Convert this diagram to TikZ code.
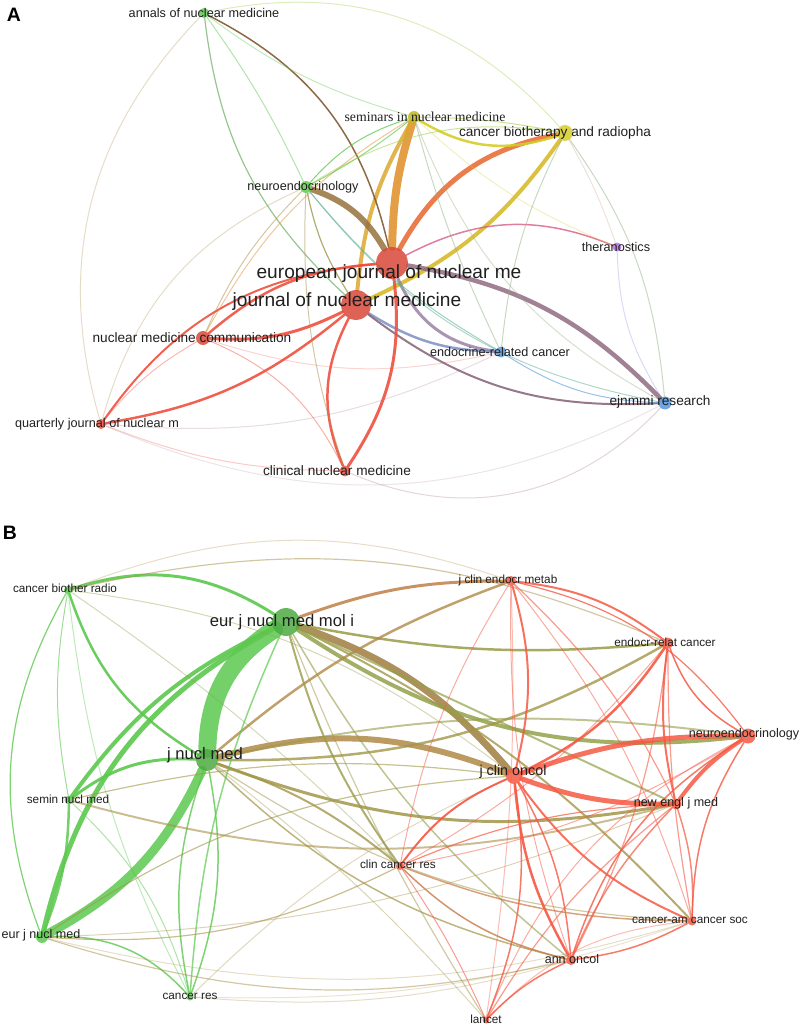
\documentclass[tikz,border=0pt]{standalone}
\usepackage{fontspec}
\setmainfont{Liberation Sans}
\newfontfamily\serifA{Liberation Serif}
\usetikzlibrary{backgrounds}

% cluster colours
\definecolor{redA}{RGB}{240,80,62}
\definecolor{grnA}{RGB}{100,200,85}
\definecolor{ylwA}{RGB}{212,205,40}
\definecolor{bluA}{RGB}{85,150,222}
\definecolor{prpA}{RGB}{178,112,235}
\definecolor{redB}{RGB}{245,88,66}
\definecolor{grnB}{RGB}{92,200,78}

\tikzset{
  jrnl/.style={circle, inner sep=0pt, minimum size=#1, fill opacity=0.85},
  lnk/.style={line cap=round},
  lblA/.style={font=\fontsize{12.7}{14}\selectfont, text=black!88, inner sep=0pt},
  lblAm/.style={font=\fontsize{13.7}{15}\selectfont, text=black!88, inner sep=0pt},
  lblAL/.style={font=\fontsize{19.2}{21}\selectfont, text=black!88, inner sep=0pt},
  lblBs/.style={font=\fontsize{11.8}{13}\selectfont, text=black!88, inner sep=0pt},
  lblB/.style={font=\fontsize{12.6}{14}\selectfont, text=black!88, inner sep=0pt},
  lblBm/.style={font=\fontsize{14.4}{16}\selectfont, text=black!88, inner sep=0pt},
  lblBL/.style={font=\fontsize{16.7}{18}\selectfont, text=black!88, inner sep=0pt},
  panel/.style={font=\bfseries\fontsize{19.5}{20}\selectfont, inner sep=0pt}
}

\begin{document}
\begin{tikzpicture}[x=1bp,y=1bp]
\useasboundingbox (0,-1027) rectangle (803,0);

% ---------- panel A: journals ----------
\node[panel] (panelA) at (14,-15) {A};

\node[jrnl=10, fill=grnA] (annals) at (204,-13) {};
\node[jrnl=12, fill=ylwA!90!black] (semA) at (414,-117) {};
\node[jrnl=16, fill=ylwA] (cbr) at (565,-133) {};
\node[jrnl=12, fill=grnA] (neuroA) at (306,-187) {};
\node[jrnl=9, fill=prpA] (thera) at (617,-247) {};
\node[jrnl=32, fill=redA!90!black] (ejnm) at (392,-263) {};
\node[jrnl=30, fill=redA!90!black] (jnm) at (356,-305) {};
\node[jrnl=14, fill=redA!90!black] (nmc) at (203,-338) {};
\node[jrnl=11, fill=bluA] (erc) at (501,-352) {};
\node[jrnl=10, fill=redA] (qj) at (101,-424) {};
\node[jrnl=13, fill=bluA] (ejr) at (665,-403) {};
\node[jrnl=11, fill=redA] (cnm) at (345,-471) {};

% links of panel A (source/target/colour/width/opacity/bend)
\begin{scope}[on background layer]
\foreach \s/\t/\c/\w/\o/\b in {
  ejnm/semA/redA!45!ylwA/8/.9/8,
  jnm/semA/redA!30!ylwA/4/.85/12,
  ejnm/cbr/redA!75!ylwA/5/.9/25,
  cbr/jnm/ylwA!85!redA/4/.9/15,
  semA/cbr/ylwA/2.5/.9/-25,
  semA/cbr/ylwA!60!grnA/1/.6/5,
  neuroA/ejnm/grnA!45!redA!85!black/6/.85/20,
  annals/ejnm/grnA!40!redA!70!black/1.5/.9/25,
  annals/jnm/grnA!80!black/1.2/.6/-20,
  ejnm/ejr/redA!50!bluA!85!black/4.5/.8/18,
  ejnm/erc/redA!40!bluA/3/.8/-30,
  jnm/erc/bluA!80!redA/2.5/.8/-15,
  jnm/ejr/redA!50!bluA!75!black/2/.8/-20,
  ejnm/thera/redA!60!prpA/1.5/.8/25,
  jnm/nmc/redA/3/.9/15,
  ejnm/nmc/redA/2.5/.9/-18,
  jnm/qj/redA/2.5/.9/15,
  ejnm/qj/redA/2/.9/-25,
  jnm/cnm/redA/2.5/.9/-25,
  ejnm/cnm/redA/3/.9/20,
  nmc/qj/redA/1/.4/-10,
  nmc/cnm/redA/1/.45/20,
  nmc/semA/redA!50!ylwA/1/.5/15,
  nmc/erc/redA/1/.25/-15,
  neuroA/semA/grnA/1/.8/15,
  neuroA/semA/grnA/1/.7/-5,
  neuroA/cbr/grnA!50!ylwA/1/.5/20,
  neuroA/jnm/grnA!60!redA/1.2/.8/-10,
  neuroA/erc/grnA!60!bluA/1/.6/-10,
  neuroA/ejr/grnA!50!bluA/1/.5/-20,
  neuroA/cnm/grnA!50!redA/1/.5/-10,
  neuroA/nmc/grnA!50!redA/1/.5/-10,
  annals/semA/grnA/1/.4/-10,
  annals/neuroA/grnA/1/.5/5,
  annals/cbr/grnA!50!ylwA/1/.35/30,
  annals/qj/grnA!50!redA/1/.3/-30,
  semA/erc/ylwA!50!bluA/1/.5/-5,
  semA/ejr/ylwA!50!bluA/1/.4/-20,
  semA/thera/ylwA/1/.3/-10,
  cbr/erc/ylwA!50!bluA/1/.5/-10,
  cbr/ejr/ylwA!50!bluA/1/.5/15,
  cbr/thera/ylwA!50!prpA/1/.3/5,
  thera/ejr/prpA!50!bluA/1/.3/-15,
  erc/ejr/bluA/1/.6/-15,
  cnm/ejr/redA!50!bluA/1/.3/-35,
  qj/ejr/redA!50!bluA/1/.2/-25,
  qj/cnm/redA/1/.3/-10,
  qj/erc/redA!50!bluA/1/.25/-15,
  qj/neuroA/redA!50!grnA/1/.3/25%
}{
  \draw[lnk, draw=\c, line width=\w pt, draw opacity=\o] (\s) to[bend left=\b] (\t);
}
\end{scope}

\node[lblA] (annals-t) at (204,-13) {annals of nuclear medicine};
\node[lblA, font=\serifA\fontsize{13.8}{15}\selectfont] (semA-t) at (425,-117) {seminars in nuclear medicine};
\node[lblAm] (cbr-t) at (555,-133) {cancer biotherapy and radiopha};
\node[lblA] (neuroA-t) at (303,-187) {neuroendocrinology};
\node[lblA] (thera-t) at (616,-247) {theranostics};
\node[lblAL] (ejnm-t) at (389,-274) {european journal of nuclear me};
\node[lblAL] (jnm-t) at (347,-302) {journal of nuclear medicine};
\node[lblAm] (nmc-t) at (192,-338) {nuclear medicine communication};
\node[lblA] (erc-t) at (500,-352) {endocrine-related cancer};
\node[lblA] (qj-t) at (97,-424) {quarterly journal of nuclear m};
\node[lblAm] (ejr-t) at (660,-402) {ejnmmi research};
\node[lblAm] (cnm-t) at (337,-471) {clinical nuclear medicine};

% ---------- panel B: cited sources ----------
\node[panel] (panelB) at (10,-533) {B};

\node[jrnl=8, fill=grnB] (cbt) at (68,-590) {};
\node[jrnl=28, fill=grnB!85!black] (ejmol) at (286,-622) {};
\node[jrnl=22, fill=grnB!85!black] (jnmB) at (207,-760) {};
\node[jrnl=10, fill=redB] (jcem) at (511,-581) {};
\node[jrnl=11, fill=redB] (erel) at (668,-643) {};
\node[jrnl=15, fill=redB] (neuroB) at (748,-736) {};
\node[jrnl=16, fill=redB] (jco) at (514,-776) {};
\node[jrnl=11, fill=redB] (nejm) at (676,-804) {};
\node[jrnl=9, fill=grnB] (semB) at (69,-800) {};
\node[jrnl=8, fill=redB] (ccr) at (400,-866) {};
\node[jrnl=12, fill=grnB] (ejnB) at (42,-937) {};
\node[jrnl=7, fill=grnB] (cres) at (190,-997) {};
\node[jrnl=9, fill=redB] (cacs) at (692,-921) {};
\node[jrnl=10, fill=redB] (annonc) at (571,-960) {};
\node[jrnl=7, fill=redB] (lancet) at (486,-1020) {};

% links of panel B
\begin{scope}[on background layer]
\foreach \s/\t/\c/\w/\o/\b in {
  ejmol/jnmB/grnB/18/.85/-28,
  ejnB/jnmB/grnB/9/.85/-18,
  ejnB/ejmol/grnB/5/.9/24,
  semB/ejmol/grnB/4/.9/14,
  ejnB/semB/grnB/2.5/.85/-10,
  semB/jnmB/grnB/3/.9/20,
  cbt/ejmol/grnB/3/.9/25,
  cbt/jnmB/grnB/2.5/.9/-20,
  cbt/ejnB/grnB/1.2/.8/-25,
  cbt/semB/grnB/1/.6/-10,
  cbt/cres/grnB/1/.4/-10,
  cbt/jco/grnB!60!redB/1/.4/15,
  cbt/ccr/grnB!65!redB/1/.4/5,
  cbt/jcem/grnB!45!redB/1/.3/20,
  cbt/erel/grnB!50!redB/1.2/.5/18,
  ejmol/jco/grnB!45!redB!90!black/7/.85/15,
  jnmB/jco/grnB!45!redB/6/.85/18,
  ejmol/neuroB/grnB!65!redB/4/.85/-20,
  jnmB/nejm/grnB!55!redB/3/.85/-15,
  ejmol/erel/grnB!60!redB/2.5/.85/-8,
  jnmB/erel/grnB!55!redB/2.5/.8/-15,
  ejmol/jcem/grnB!35!redB/3/.85/10,
  jnmB/jcem/grnB!45!redB/2.5/.8/10,
  ejmol/ccr/grnB!60!redB/2/.8/-10,
  ejmol/annonc/grnB!60!redB/1.5/.6/-10,
  ejmol/cacs/grnB!55!redB/2/.8/10,
  ejmol/nejm/grnB!65!redB/2/.7/0,
  ejmol/cres/grnB/1.5/.7/-10,
  ejmol/lancet/grnB!55!redB/1.2/.5/-5,
  jnmB/ccr/grnB!55!redB/2/.8/10,
  jnmB/cres/grnB/1.5/.8/-15,
  jnmB/cres/grnB/1.5/.8/15,
  jnmB/annonc/grnB!55!redB/1.5/.7/-15,
  jnmB/cacs/grnB!55!redB/1.2/.5/-15,
  jnmB/lancet/grnB!55!redB/1/.4/5,
  jnmB/neuroB/grnB!60!redB/2/.6/10,
  semB/nejm/grnB!50!redB/2/.6/-15,
  semB/jco/grnB!55!redB/1.2/.6/10,
  semB/cres/grnB/1/.5/15,
  ejnB/cres/grnB/1.5/.8/25,
  ejnB/ccr/grnB!50!redB/1.2/.6/-15,
  ejnB/jco/grnB!55!redB/1.2/.6/15,
  ejnB/annonc/grnB!50!redB/1.2/.5/-15,
  ejnB/nejm/grnB!50!redB/1/.4/-10,
  ejnB/cacs/grnB!50!redB/1/.3/-15,
  cres/annonc/grnB!50!redB/1/.3/-10,
  cres/jco/grnB!50!redB/1/.35/10,
  cres/cacs/grnB!50!redB/1/.25/-10,
  jco/neuroB/redB/5/.85/10,
  jco/nejm/redB/5/.85/-10,
  nejm/neuroB/redB/4/.85/10,
  jco/annonc/redB/2.5/.9/-12,
  jco/annonc/redB/1.5/.8/12,
  jco/ccr/redB/2/.9/-15,
  jco/lancet/redB/1.5/.8/15,
  jco/cacs/redB/2/.85/-15,
  jco/jcem/redB/2/.85/-15,
  jco/erel/redB/2.5/.9/-15,
  jcem/erel/redB/2/.85/15,
  jcem/neuroB/redB/1.2/.8/20,
  jcem/nejm/redB/1.2/.6/10,
  jcem/annonc/redB/1/.5/-10,
  jcem/cacs/redB/1/.5/10,
  jcem/ccr/redB/1/.5/-10,
  jcem/lancet/redB/1/.4/5,
  erel/neuroB/redB/1.5/.85/-20,
  erel/nejm/redB/2/.85/-10,
  erel/annonc/redB/1.2/.6/10,
  erel/cacs/redB/1.2/.6/-5,
  erel/ccr/redB/1/.5/10,
  neuroB/cacs/redB/1.5/.8/-15,
  neuroB/annonc/redB/1.5/.8/-20,
  neuroB/lancet/redB/1/.5/-20,
  neuroB/ccr/redB/1/.5/10,
  nejm/annonc/redB/1.5/.7/-10,
  nejm/cacs/redB/1.5/.7/10,
  nejm/ccr/redB/1.2/.7/-10,
  nejm/lancet/redB/1.2/.6/-10,
  ccr/annonc/redB!70!grnB/1.5/.8/-15,
  ccr/lancet/redB/1/.6/5,
  ccr/cacs/redB!70!grnB/1.5/.7/-10,
  annonc/lancet/redB/1.5/.8/-10,
  annonc/cacs/redB/1.5/.8/-10,
  cacs/lancet/redB/1/.4/-20%
}{
  \draw[lnk, draw=\c, line width=\w pt, draw opacity=\o] (\s) to[bend left=\b] (\t);
}
\end{scope}

\node[lblBs] (cbt-t) at (65,-588) {cancer biother radio};
\node[lblBL] (ejmol-t) at (282,-622) {eur j nucl med mol i};
\node[lblBL] (jnmB-t) at (205,-755) {j nucl med};
\node[lblBs] (jcem-t) at (508,-580) {j clin endocr metab};
\node[lblBs] (erel-t) at (665,-642) {endocr-relat cancer};
\node[lblB] (neuroB-t) at (744,-734) {neuroendocrinology};
\node[lblBm] (jco-t) at (513,-772) {j clin oncol};
\node[lblB] (nejm-t) at (676,-803) {new engl j med};
\node[lblBs] (semB-t) at (68,-799) {semin nucl med};
\node[lblBs] (ccr-t) at (398,-864) {clin cancer res};
\node[lblB] (ejnB-t) at (41,-935) {eur j nucl med};
\node[lblBs] (cres-t) at (190,-996) {cancer res};
\node[lblBs] (cacs-t) at (690,-920) {cancer-am cancer soc};
\node[lblB] (annonc-t) at (572,-959) {ann oncol};
\node[lblBs] (lancet-t) at (486,-1019) {lancet};

\end{tikzpicture}
\end{document}
